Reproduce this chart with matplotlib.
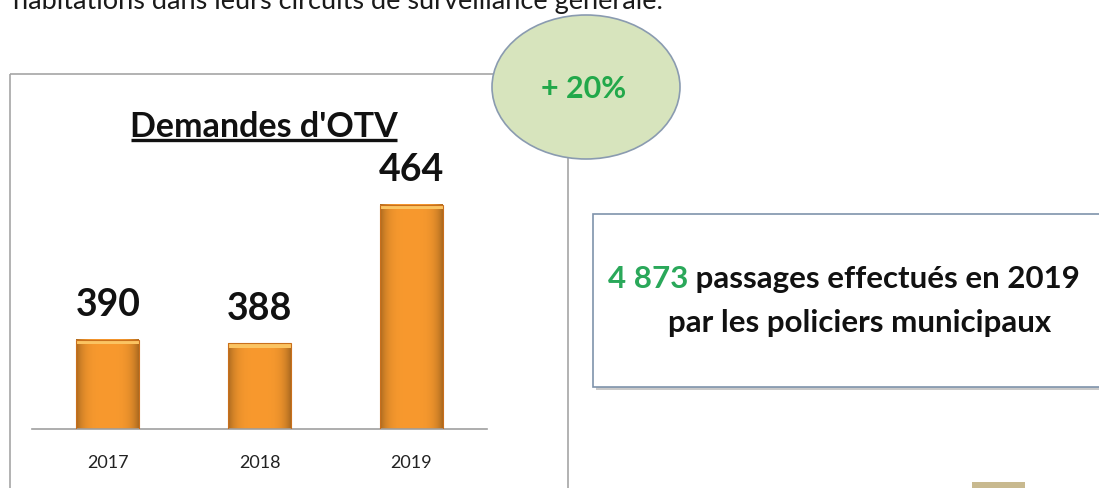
import matplotlib
matplotlib.use("Agg")
import matplotlib.pyplot as plt
from matplotlib.patches import Ellipse, Rectangle
import numpy as np

plt.rcParams['font.family'] = ['Lato', 'DejaVu Sans']

# data
years = ['2017', '2018', '2019']
demandes = [390, 388, 464]
title = "Demandes d'OTV"
evolution = "+ 20%"
passages = "4 873"
passages_txt1 = " passages effectués en 2019"
passages_txt2 = "par les policiers municipaux"
top_line = "habitations dans leurs circuits de surveillance générale."

W, H = 1099, 489
fig = plt.figure(figsize=(W / 100, H / 100), dpi=100)
fig.patch.set_facecolor('white')

# overlay in pixel coordinates
bg = fig.add_axes([0, 0, 1, 1])
bg.set_xlim(0, W)
bg.set_ylim(H, 0)
bg.axis('off')

# text cut at the top of the picture (as in the source slide)
bg.text(13, 2, top_line, fontsize=19.5, color='#1a1a1a', va='center', ha='left')

# chart frame
bg.add_patch(Rectangle((10, 75), 558, 430, fill=False, ec='#a6a6a6', lw=1.2))
bg.text(264, 127, title, fontsize=24.5, fontweight='bold', ha='center', va='center',
        color='#111111')
bg.plot([131, 397], [141, 141], color='#111111', lw=2.4, solid_capstyle='butt')


def px(x, y):
    return x / W, 1 - y / H


# bars
x0, yb = px(32, 430)
x1, yt = px(487, 100)
ax = fig.add_axes([x0, yb, x1 - x0, yt - yb])
ax.set_xlim(-0.5, 2.5)
ymin, ymax = 341, 522
ax.set_ylim(ymin, ymax)
for s in ['top', 'right', 'left']:
    ax.spines[s].set_visible(False)
ax.spines['bottom'].set_color('#a0a0a0')
ax.spines['bottom'].set_linewidth(1.2)
ax.set_yticks([])
ax.set_xticks([])
ax.patch.set_alpha(0)

bw = 0.415
grad = np.linspace(-1, 1, 64)
shade = 1 - 0.3 * grad ** 4
base = np.array([0.97, 0.60, 0.18])
img = np.clip(base[None, :] * shade[:, None], 0, 1)[None, :, :]
for i, v in enumerate(demandes):
    ax.imshow(img, extent=(i - bw / 2, i + bw / 2, ymin, v), aspect='auto', zorder=2)
    ax.add_patch(Rectangle((i - bw / 2, v - 2.5), bw, 2.5, color='#fbc462', lw=0, zorder=3))
    ax.add_patch(Rectangle((i - bw / 2, ymin), bw, v - ymin, fill=False,
                           ec='#c96f1c', lw=0.8, zorder=3))
    ax.text(i, v + 19.5, str(v), ha='center', va='center', fontsize=27,
            fontweight='bold', color='#111111')
    ax.text(i, ymin - 18, years[i], ha='center', va='center', fontsize=13,
            color='#222222', clip_on=False)

# ellipse with the change
bg.add_patch(Ellipse((586, 88), 188, 144, fc='#d7e4bd', ec='#8a9bb0', lw=1.2, zorder=5))
bg.text(584, 89, evolution, fontsize=22, fontweight='bold', color='#22a84a',
        ha='center', va='center', zorder=6)

# right box with shadow
bg.add_patch(Rectangle((596, 218), 520, 173, fc='#c9c9c9', ec='none', zorder=1))
bg.add_patch(Rectangle((593, 215), 520, 173, fc='white', ec='#7f93ab', lw=1.2, zorder=2))
t1 = bg.text(608, 279, passages, fontsize=22.5, fontweight='bold', color='#2aa85a',
             ha='left', va='center', zorder=3)
fig.canvas.draw()
xe = t1.get_window_extent().x1
bg.annotate(passages_txt1, xy=(xe, H - 279), xycoords='figure pixels', fontsize=22.5,
            fontweight='bold', color='#111111', ha='left', va='center', zorder=3)
bg.text(860, 323, passages_txt2, fontsize=22.5, fontweight='bold', color='#111111',
        ha='center', va='center', zorder=3)

# small beige square at the bottom right
bg.add_patch(Rectangle((972, 483), 53, 10, fc='#c8b98f', ec='none'))

fig.savefig('out.png', dpi=100)
